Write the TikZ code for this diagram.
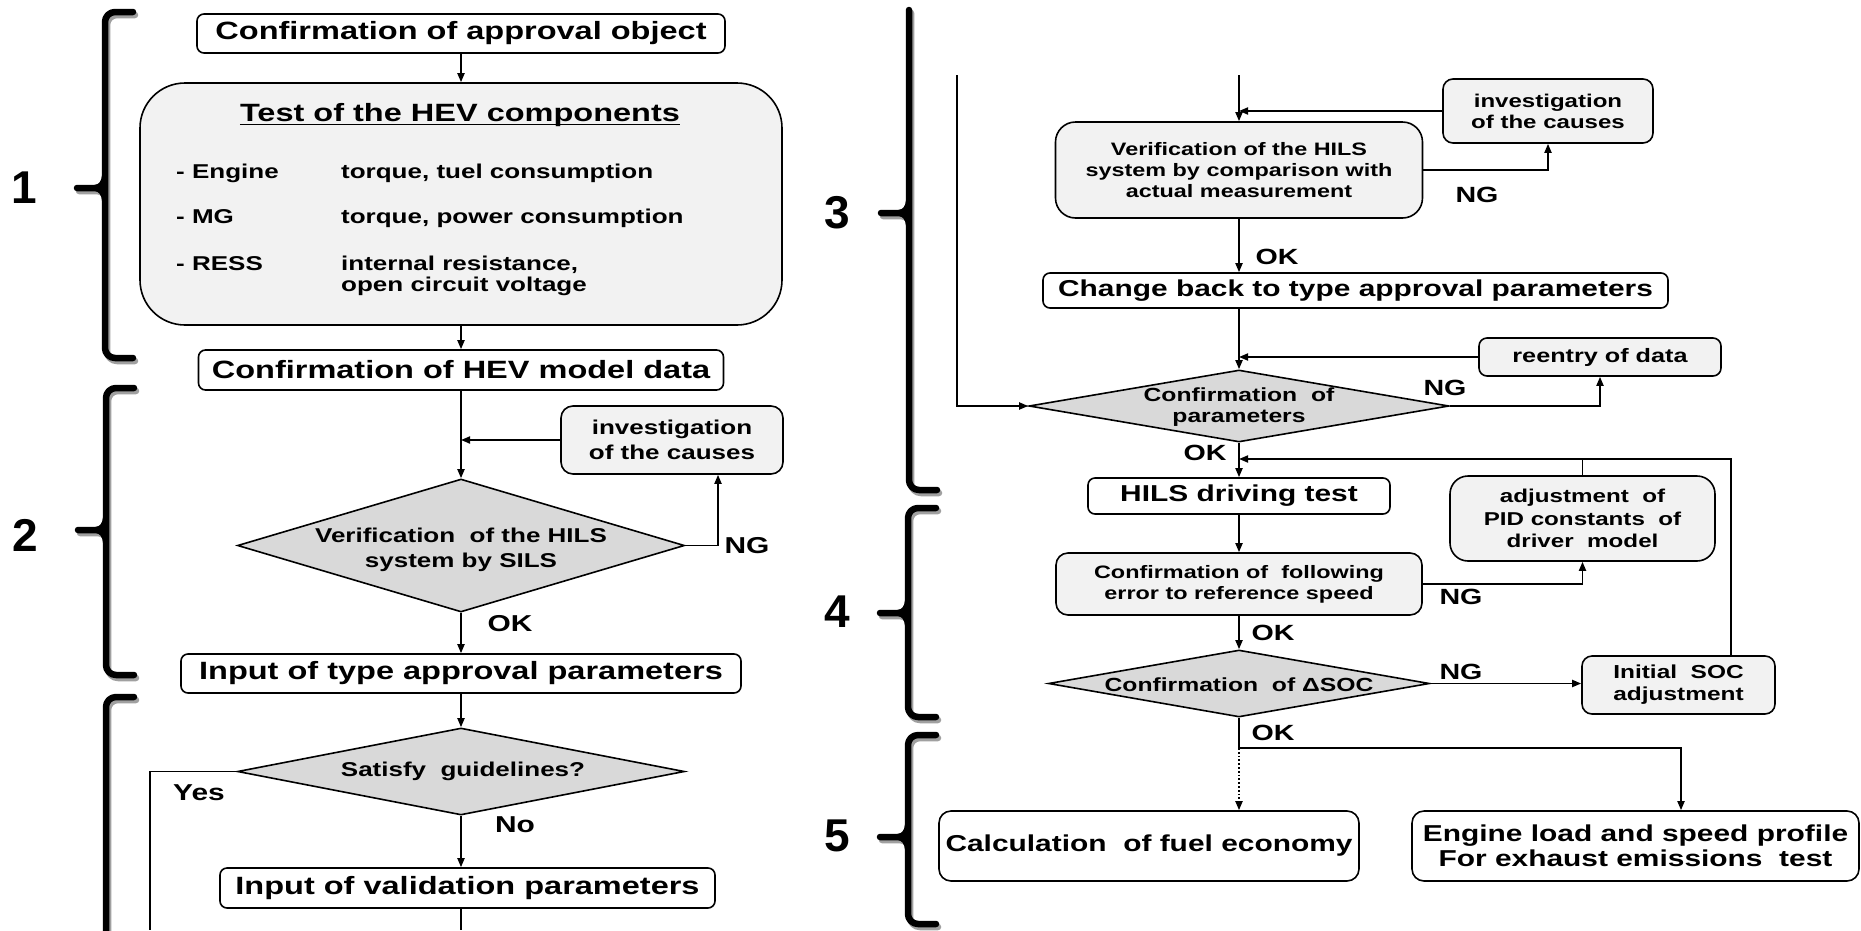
\documentclass[tikz,border=0pt]{standalone}
\usepackage{fontspec}
\setmainfont{Liberation Sans}[FakeStretch=1.3]
\newfontfamily\numfont{Liberation Sans}
\usetikzlibrary{arrows.meta,shapes.geometric,calc}
\definecolor{boxgray}{HTML}{F2F2F2}
\definecolor{diagray}{HTML}{D9D9D9}
\definecolor{shadowgray}{HTML}{A0A0A0}
\newcommand\myfs[2]{\fontsize{#1}{#2}\selectfont\bfseries}
\newcommand\BraceShape[4]{(#1+28,#2) -- (#1+10,#2) to[out=180,in=90] (#1,#2+10) -- (#1,#4-10) to[out=-90,in=180] (#1+10,#4) -- (#1+28,#4)
 (#1,#3-12) to[out=-90,in=0] (#1-10,#3) -- (#1-28,#3)
 (#1,#3+12) to[out=90,in=0] (#1-10,#3)}
\tikzset{
  box/.style={draw, line width=1.6pt, rounded corners=7pt, fill=white, inner sep=0pt, align=center},
  gbox/.style={box, fill=boxgray},
  dia/.style={draw, line width=1.6pt, diamond, fill=diagray, inner sep=0pt},
  conn/.style={line width=1.8pt},
  arr/.style={conn, -{Triangle[length=9pt,width=7pt]}},
  lblL/.style={font=\myfs{23}{23}, inner sep=0pt},
  lblR/.style={font=\myfs{22}{22}, inner sep=0pt},
  item/.style={font=\myfs{20}{20}, inner sep=0pt, anchor=base west},
  bracestroke/.style={line width=6.5pt, line cap=round, line join=round},
  brnum/.style={font=\numfont\bfseries\fontsize{46}{46}\selectfont, inner sep=0pt},
}
\begin{document}
\begin{tikzpicture}[x=1pt,y=-1pt]
\useasboundingbox (0,0) rectangle (1861,930);

% ---------- braces (shadow, then black) ----------
\begin{scope}[shift={(2,3)}]
\draw[bracestroke, shadowgray] \BraceShape{105}{12}{188}{358};
\draw[bracestroke, shadowgray] \BraceShape{106}{388}{530}{675};
\draw[bracestroke, shadowgray] (134,697) -- (116,697) to[out=180,in=90] (106,707) -- (106,935);
\draw[bracestroke, shadowgray] (909,10) -- (909,480) to[out=-90,in=180] (919,490) -- (937,490)
  (909,201) to[out=-90,in=0] (899,213) -- (881,213) (909,225) to[out=90,in=0] (899,213);
\draw[bracestroke, shadowgray] \BraceShape{908}{508}{613}{717};
\draw[bracestroke, shadowgray] \BraceShape{908}{735}{837}{924};
\end{scope}
\draw[bracestroke] \BraceShape{105}{12}{188}{358};
\draw[bracestroke] \BraceShape{106}{388}{530}{675};
\draw[bracestroke] (134,697) -- (116,697) to[out=180,in=90] (106,707) -- (106,935);
\draw[bracestroke] (909,10) -- (909,480) to[out=-90,in=180] (919,490) -- (937,490)
  (909,201) to[out=-90,in=0] (899,213) -- (881,213) (909,225) to[out=90,in=0] (899,213);
\draw[bracestroke] \BraceShape{908}{508}{613}{717};
\draw[bracestroke] \BraceShape{908}{735}{837}{924};

\node[brnum] (n1) at (24,188) {1};
\node[brnum] (n2) at (25,535) {2};
\node[brnum] (n3) at (837,213) {3};
\node[brnum] (n4) at (837,612) {4};
\node[brnum] (n5) at (837,836) {5};

% ---------- left column ----------
\node[box, minimum width=528, minimum height=39, font=\myfs{25}{28}] (A) at (461,33.5) {Confirmation of approval object};
\node[gbox, rounded corners=45pt, minimum width=642, minimum height=242] (B) at (461,204) {};
\node[font=\myfs{25}{28}, inner sep=0pt] (Bt) at (460,115) {Test of the HEV components};
\draw[line width=1.5pt] ([yshift=-3pt]Bt.base west) -- ([yshift=-3pt]Bt.base east);
\node[item] (b1) at (176,178) {- Engine};
\node[item] (b2) at (341,178) {torque, tuel consumption};
\node[item] (b3) at (176,223) {- MG};
\node[item] (b4) at (341,223) {torque, power consumption};
\node[item] (b5) at (176,270) {- RESS};
\node[item] (b6) at (341,270) {internal resistance,};
\node[item] (b7) at (341,291) {open circuit voltage};

\node[box, minimum width=525, minimum height=40, font=\myfs{25}{28}] (C) at (461,370) {Confirmation of HEV model data};
\node[gbox, rounded corners=12pt, minimum width=222, minimum height=68, font=\myfs{20}{25}] (E) at (672,440) {investigation\\of the causes};
\node[dia, minimum width=447, minimum height=133] (D) at (461,545.5) {};
\node[font=\myfs{20}{25}, align=center, inner sep=0pt] (Dt) at (461,550) {Verification\ \ of the HILS\\system by SILS};
\node[box, minimum width=560, minimum height=39, font=\myfs{25}{28}] (F) at (461,673.5) {Input of type approval parameters};
\node[dia, minimum width=447, minimum height=87] (G) at (461,771.5) {};
\node[font=\myfs{20}{25}, inner sep=0pt] (Gt) at (463,771) {Satisfy\ \ guidelines?};
\node[box, minimum width=495, minimum height=40, font=\myfs{25}{28}] (H) at (467.5,888) {Input of validation parameters};

\coordinate (yesEnd) at (150,930);
\coordinate (hEnd) at (461,930);

\draw[arr] (A.south) -- (B.north);
\draw[arr] (B.south) -- (C.north);
\draw[arr] (C.south) -- (D.north);
\draw[arr] (E.west) -- (E.west -| C.south);
\draw[arr] (D.east) -| ([xshift=46pt]E.south);
\draw[arr] (D.south) -- (F.north);
\draw[arr] (F.south) -- (G.north);
\draw[conn] (G.west) -| (yesEnd);
\draw[arr] (G.south) -- (G.south |- H.north);
\draw[conn] (G.south |- H.south) -- (hEnd);

\node[lblL] (ngD) at (747,546) {NG};
\node[lblL] (okD) at (510,624) {OK};
\node[lblL] (yesG) at (199,793) {Yes};
\node[lblL] (noG) at (515,825) {No};

% ---------- right column ----------
\coordinate (inTop) at (1239,75);
\coordinate (loopTop) at (957,75);
\node[gbox, rounded corners=10pt, minimum width=210, minimum height=64, font=\myfs{18.5}{21}] (K) at (1548,111) {investigation\\of the causes};
\node[gbox, rounded corners=20pt, minimum width=367, minimum height=96, font=\myfs{18}{21}] (J) at (1239,170) {Verification of the HILS\\system by comparison with\\actual measurement};
\node[box, minimum width=625, minimum height=35, font=\myfs{23}{26}] (L) at (1355.5,290.5) {Change back to type approval parameters};
\node[gbox, rounded corners=8pt, minimum width=242, minimum height=38, font=\myfs{19.4}{22}] (N) at (1600,357) {reentry of data};
\node[dia, minimum width=420, minimum height=72] (M) at (1239,406) {};
\node[font=\myfs{19}{21}, align=center, inner sep=0pt] (Mt) at (1239,407) {Confirmation\ \ of\\parameters};
\node[box, minimum width=302, minimum height=36, font=\myfs{23}{26}] (O) at (1239,496) {HILS driving test};
\node[gbox, rounded corners=18pt, minimum width=265, minimum height=85, font=\myfs{18.6}{22.5}] (P) at (1582.5,518.5) {adjustment\ \ of\\PID constants\ \ of\\driver\ \ model};
\node[gbox, rounded corners=12pt, minimum width=366, minimum height=62, font=\myfs{18}{21}] (Q) at (1239,584) {Confirmation of\ \ following\\error to reference speed};
\node[dia, minimum width=381, minimum height=67] (S) at (1239,683.5) {};
\node[font=\myfs{19}{21}, inner sep=0pt] (St) at (1239,685) {Confirmation\ \ of ΔSOC};
\node[gbox, rounded corners=10pt, minimum width=193, minimum height=58, font=\myfs{18.8}{22}] (R) at (1678.5,685) {Initial\ \ SOC\\adjustment};
\node[box, rounded corners=12pt, minimum width=420, minimum height=70, font=\myfs{23}{26}] (T) at (1149,846) {Calculation\ \ of fuel economy};
\node[box, rounded corners=12pt, minimum width=447, minimum height=70, font=\myfs{23}{25}] (U) at (1635.5,846) {Engine load and speed profile\\For exhaust emissions\ \ test};

\coordinate (fb) at (1731,459);
\coordinate (split) at (1239,748);
\coordinate (uIn) at (1681,748);

\draw[arr] (inTop) -- (J.north);
\draw[arr] (K.west) -- (K.west -| J.north);
\draw[arr] (J.east) -| (K.south);
\draw[arr] (J.south) -- (J.south |- L.north);
\draw[arr] (J.south |- L.south) -- (M.north);
\draw[arr] (N.west) -- (N.west -| M.north);
\draw[arr] (M.east) -| (N.south);
\draw[arr] (loopTop) |- (M.west);
\draw[arr] (M.south) -- (O.north);
\draw[arr] (R.north -| fb) -- (fb) -- (fb -| O.north);
\draw[conn] (P.north) -- (P.north |- fb);
\draw[arr] (O.south) -- (Q.north);
\draw[arr] (Q.east) -| (P.south);
\draw[arr] (Q.south) -- (S.north);
\draw[arr] (S.east) -- (S.east -| R.west);
\draw[conn] (S.south) -- (split);
\draw[arr, dotted] (split) -- (split |- T.north);
\draw[arr] (split) -- (uIn) -- (uIn |- U.north);

\node[lblR] (ngJ) at (1477,195) {NG};
\node[lblR] (okJ) at (1277,257) {OK};
\node[lblR] (ngM) at (1445,388) {NG};
\node[lblR] (okM) at (1205,453) {OK};
\node[lblR] (ngQ) at (1461,597) {NG};
\node[lblR] (okQ) at (1273,633) {OK};
\node[lblR] (ngS) at (1461,672) {NG};
\node[lblR] (okS) at (1273,733) {OK};
\end{tikzpicture}
\end{document}
